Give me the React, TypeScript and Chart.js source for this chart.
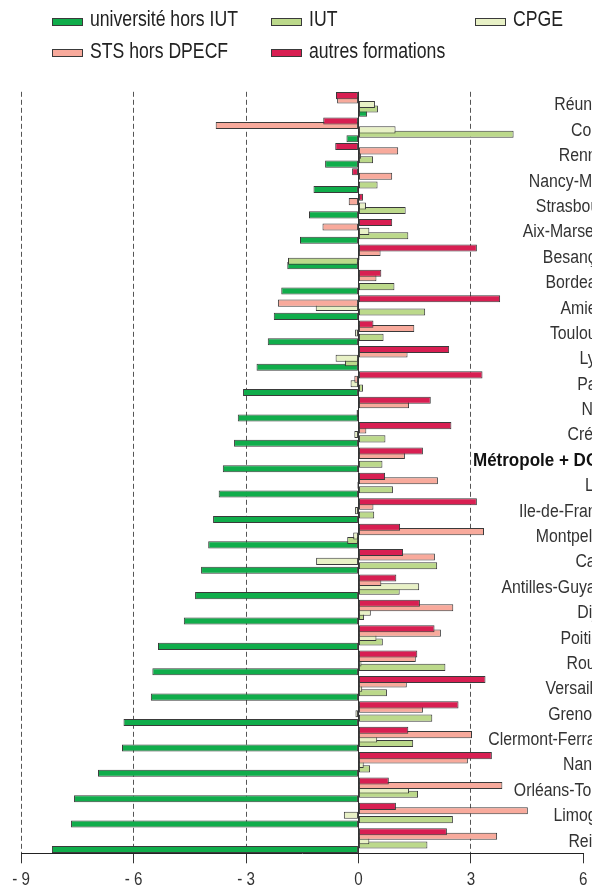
import { useEffect, useRef } from 'react';
import { Chart, registerables } from 'chart.js';

Chart.register(...registerables);

const FONT = "'Liberation Sans', Arial, sans-serif";
const NARROW = 0.82; // horizontal compression to mimic a condensed face
const LABEL_NARROW = 0.88;
const LABEL_NARROW_BOLD = 0.945;

const categories = [
  'Réunion', 'Corse', 'Rennes', 'Nancy-Metz', 'Strasbourg', 'Aix-Marseille', 'Besançon',
  'Bordeaux', 'Amiens', 'Toulouse', 'Lyon', 'Paris', 'Nice', 'Créteil', 'Métropole + DOM',
  'Lille', 'Ile-de-France', 'Montpellier', 'Caen', 'Antilles-Guyane', 'Dijon', 'Poitiers',
  'Rouen', 'Versailles', 'Grenoble', 'Clermont-Ferrand', 'Nantes', 'Orléans-Tours', 'Limoges', 'Reims',
];

const universite = [
  0.23, -0.32, -0.89, -1.2, -1.32, -1.56, -1.9, -2.06, -2.26, -2.42, -2.72, -3.08, -3.22, -3.32, -3.62,
  -3.73, -3.88, -4.01, -4.2, -4.36, -4.66, -5.35, -5.5, -5.54, -6.27, -6.31, -6.95, -7.59, -7.67, -8.18,
];
const iut = [
  0.52, 4.14, 0.39, 0.51, 1.26, 1.33, -1.88, 0.96, 1.78, 0.67, -0.36, 0.12, -0.05, 0.72, 0.64,
  0.92, 0.42, -0.3, 2.1, 1.1, 0.15, 0.65, 2.32, 0.76, 1.97, 1.46, 0.31, 1.59, 2.52, 1.84,
];
const cpge = [
  0.44, 0.99, 0.07, 0, 0.2, 0.29, 0.03, 0, -1.14, -0.09, -0.61, -0.21, 0, -0.11, 0,
  -0.03, -0.09, -0.14, -1.13, 1.62, 0.33, 0.48, 0.08, 0.1, -0.08, 0.5, 0.14, 1.35, -0.39, 0.29,
];
const sts = [
  -0.57, -3.81, 1.06, 0.9, -0.26, -0.96, 0.59, 0.48, -2.15, 1.49, 1.31, -0.11, 1.35, 0.21, 1.24,
  2.12, 0.4, 3.35, 2.04, 0.61, 2.53, 2.2, 1.53, 1.29, 1.72, 3.03, 2.92, 3.84, 4.52, 3.7,
];
const autres = [
  -0.6, -0.94, -0.62, -0.17, 0.12, 0.9, 3.16, 0.61, 3.78, 0.4, 2.42, 3.31, 1.93, 2.48, 1.72,
  0.71, 3.16, 1.11, 1.19, 1.01, 1.64, 2.03, 1.57, 3.39, 2.67, 1.33, 3.56, 0.81, 1.0, 2.36,
];

const seriesNames = ['université hors IUT', 'IUT', 'CPGE', 'STS hors DPECF', 'autres formations'];
const seriesColors = ['#10ad4b', '#bcd98b', '#e8f1c6', '#f8aa9c', '#d81f52'];
const xMin = -9;
const xMax = 6;
const xStep = 3;

const legendLayout = [
  { x: 52, row: 0 },
  { x: 271, row: 0 },
  { x: 475, row: 0 },
  { x: 52, row: 1 },
  { x: 271, row: 1 },
];
const rowCenters = [19.5, 51];

const formatTick = (v: number) => (v < 0 ? '- ' + Math.abs(v) : String(v));

const textPlugin = {
  id: 'textPlugin',
  afterDatasetsDraw(chart: any) {
    const { ctx, chartArea, scales } = chart;
    const yScale = scales.y;
    const xScale = scales.x;
    const right = chartArea.right + 30;
    categories.forEach((c, i) => {
      const bold = c === 'Métropole + DOM';
      const k = bold ? LABEL_NARROW_BOLD : LABEL_NARROW;
      ctx.save();
      ctx.scale(k, 1);
      ctx.textAlign = 'right';
      ctx.textBaseline = 'middle';
      ctx.font = `${bold ? 'bold ' : ''}18px ${FONT}`;
      ctx.fillStyle = bold ? '#111' : '#333';
      ctx.fillText(c, right / k, yScale.getPixelForValue(i) + 1);
      ctx.restore();
    });
    // x tick labels
    ctx.save();
    ctx.scale(NARROW, 1);
    ctx.textAlign = 'center';
    ctx.textBaseline = 'alphabetic';
    ctx.font = `18.5px ${FONT}`;
    ctx.fillStyle = '#333';
    xScale.ticks.forEach((t: any) => {
      ctx.fillText(formatTick(t.value), xScale.getPixelForValue(t.value) / NARROW, chartArea.bottom + 31.5);
    });
    ctx.restore();
  },
};

export default function App() {
  const ref = useRef<HTMLCanvasElement>(null);

  useEffect(() => {
    const canvas = ref.current!;
    const series = [universite, iut, cpge, sts, autres];
    // top-to-bottom within a group: autres, STS, CPGE, IUT, université
    const order = [4, 3, 2, 1, 0];
    const chart = new Chart(canvas, {
      type: 'bar',
      data: {
        labels: categories,
        datasets: order.map((k) => ({
          label: seriesNames[k],
          data: series[k],
          backgroundColor: seriesColors[k],
          borderColor: '#3a3a3a',
          borderWidth: 1,
          borderSkipped: false,
          categoryPercentage: 0.87,
          barPercentage: 1.6,
        })),
      },
      options: {
        indexAxis: 'y',
        responsive: false,
        animation: false,
        devicePixelRatio: 1,
        layout: { padding: { top: 91.8, left: 21.2, right: 8.7, bottom: 22.7 } },
        plugins: { legend: { display: false }, tooltip: { enabled: false } },
        scales: {
          x: {
            type: 'linear',
            min: xMin,
            max: xMax,
            ticks: { stepSize: xStep, display: false },
            grid: {
              color: (c: any) => {
                const v = c.tick ? c.tick.value : null;
                if (v === xMax) return 'rgba(0,0,0,0)';
                if (v === 0) return '#333';
                return '#555';
              },
              tickColor: '#333',
              tickLength: 10,
              lineWidth: 1,
              drawTicks: true,
            },
            border: {
              display: true,
              color: '#222',
              width: 1,
              dash: (c: any) => (c.tick && c.tick.value !== 0 ? [5, 3] : []),
            },
          },
          y: { display: false },
        },
      },
      plugins: [textPlugin],
    } as any);
    return () => chart.destroy();
  }, []);

  return (
    <div
      style={{
        position: 'fixed',
        left: 0,
        top: 0,
        width: 592,
        height: 886,
        overflow: 'hidden',
        background: '#fff',
      }}
    >
      <canvas ref={ref} width={592} height={886} style={{ position: 'absolute', left: 0, top: 0, width: 592, height: 886 }} />
      {legendLayout.map((p, i) => (
        <div key={i}>
          <div
            style={{
              position: 'absolute',
              left: p.x,
              top: rowCenters[p.row] + 2.2 - 4,
              width: 31,
              height: 8,
              boxSizing: 'border-box',
              border: '1px solid #3a3a3a',
              background: seriesColors[i],
            }}
          />
          <div
            style={{
              position: 'absolute',
              left: p.x + 38,
              top: rowCenters[p.row] - 10.4,
              fontFamily: FONT,
              fontSize: 21.5,
              lineHeight: '21.5px',
              color: '#222',
              whiteSpace: 'nowrap',
              transform: `scaleX(${NARROW})`,
              transformOrigin: '0 0',
            }}
          >
            {seriesNames[i]}
          </div>
        </div>
      ))}
    </div>
  );
}
